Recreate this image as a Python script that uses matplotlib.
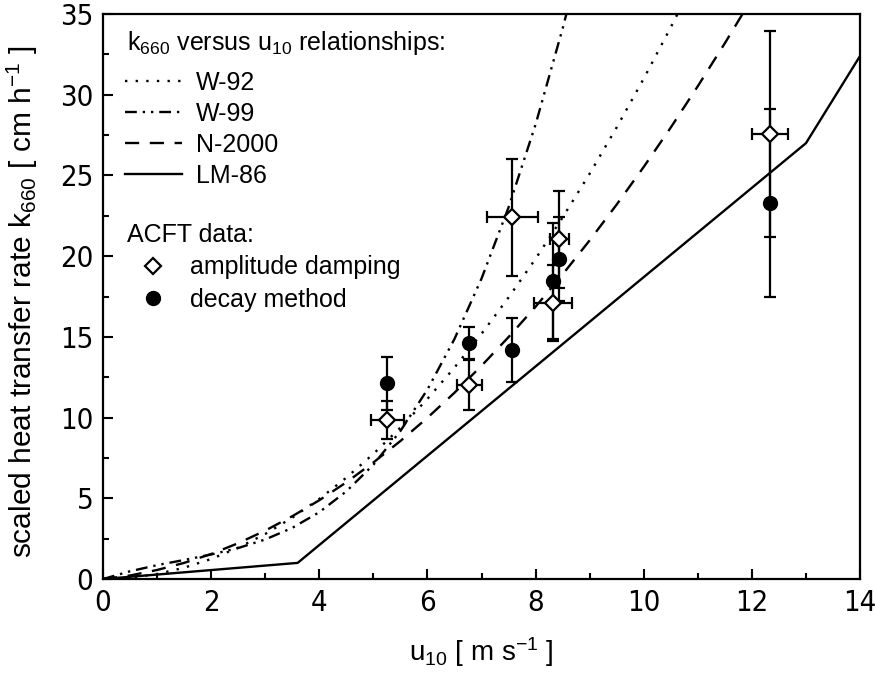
import numpy as np
import matplotlib
matplotlib.use("Agg")
import matplotlib.pyplot as plt
from matplotlib.lines import Line2D
from matplotlib import font_manager

# PICK A NARROW FONT FOR TICKS IF ONE IS THERE
fonts = font_manager.fontManager.ttflist
names = set(f.name for f in fonts)
if "Liberation Sans Narrow" in names:
    tick_font = dict(family="Liberation Sans Narrow", size=25)
elif any(f.name == "DejaVu Sans" and f.stretch == "condensed" for f in fonts):
    tick_font = dict(family="DejaVu Sans", stretch="condensed", size=21)
else:
    tick_font = dict(family="Liberation Sans", size=19)

plt.rcParams["font.family"] = ["Liberation Sans", "DejaVu Sans"]
plt.rcParams["mathtext.fontset"] = "custom"
plt.rcParams["mathtext.rm"] = "Liberation Sans"
plt.rcParams["mathtext.it"] = "Liberation Sans"

# k660 VERSUS u10 CURVES
u_w92 = [0, 0.5, 1, 1.5, 2, 2.5, 3, 3.5, 4, 4.5, 5, 5.5, 6, 6.5, 7, 7.5, 8, 8.5, 9, 9.5, 10, 10.5, 10.7]
k_w92 = [0, 0.08, 0.31, 0.70, 1.24, 1.94, 2.79, 3.80, 4.96, 6.28, 7.75, 9.38, 11.16, 13.10,
         15.19, 17.44, 19.84, 22.40, 25.11, 27.98, 31.0, 34.18, 35.5]

u_w99 = [0, 0.5, 1, 1.5, 2, 2.5, 3, 3.5, 4, 4.5, 5, 5.5, 6, 6.5, 7, 7.5, 8, 8.5, 8.7]
k_w99 = [0, 0.48, 0.86, 1.18, 1.52, 1.92, 2.45, 3.17, 4.14, 5.43, 7.08, 9.17, 11.74, 14.87,
         18.61, 23.02, 28.16, 34.10, 36.7]

u_n2000 = [0, 0.5, 1, 1.5, 2, 2.5, 3, 3.5, 4, 4.5, 5, 5.5, 6, 6.5, 7, 7.5, 8, 8.5, 9, 9.5,
           10, 10.5, 11, 11.5, 12]
k_n2000 = [0, 0.22, 0.56, 1.00, 1.55, 2.22, 3.00, 3.89, 4.88, 5.99, 7.22, 8.55, 9.99, 11.54,
           13.21, 14.99, 16.87, 18.87, 20.98, 23.20, 25.53, 27.97, 30.53, 33.19, 35.96]

u_lm86 = [0, 3.6, 13.0, 14.0]
k_lm86 = [0, 1.0, 27.0, 32.4]

# ACFT DATA
u_amp = [5.26, 6.77, 7.57, 8.32, 8.44, 12.34]
k_amp = [9.85, 12.02, 22.4, 17.08, 21.05, 27.57]
k_amp_err = [1.18, 1.55, 3.6, 2.35, 3.0, 6.4]
u_amp_err = [0.3, 0.23, 0.47, 0.35, 0.18, 0.33]

u_dec = [5.26, 6.77, 7.56, 8.32, 8.44, 12.34]
k_dec = [12.12, 14.62, 14.19, 18.45, 19.8, 23.3]
k_dec_err = [1.65, 1.0, 2.0, 3.6, 2.6, 5.8]

fig = plt.figure(figsize=(8.75, 6.74), dpi=100)
ax = fig.add_axes([0.1177, 0.1409, 0.8652, 0.8383])

lw = 1.7
ls_w92 = (0, (1, 3.5))
ls_w99 = (0, (5, 2.5, 1, 2.5, 1, 2.5))
ls_n2000 = (0, (6, 4.5))
ax.plot(u_w92, k_w92, color="black", lw=lw, linestyle=ls_w92)
ax.plot(u_w99, k_w99, color="black", lw=lw, linestyle=ls_w99)
ax.plot(u_n2000, k_n2000, color="black", lw=lw, linestyle=ls_n2000)
ax.plot(u_lm86, k_lm86, color="black", lw=lw, linestyle="-")

ax.errorbar(u_dec, k_dec, yerr=k_dec_err, fmt="o", color="black", ms=10,
            ecolor="black", elinewidth=1.6, capsize=4.5, capthick=1.6, zorder=3)
ax.errorbar(u_amp, k_amp, yerr=k_amp_err, xerr=u_amp_err, fmt="D", ms=8.5,
            mfc="white", mec="black", mew=1.6, ecolor="black", elinewidth=1.6,
            capsize=4.5, capthick=1.6, zorder=4)

ax.set_xlim(0, 14)
ax.set_ylim(0, 35)
ax.set_xticks(np.arange(0, 15, 2))
ax.set_xticks(np.arange(0, 15, 1), minor=True)
ax.set_yticks(np.arange(0, 36, 5))
ax.set_yticks(np.arange(0, 36, 2.5), minor=True)
ax.tick_params(which="both", direction="in", width=1.5, top=False, right=False)
ax.tick_params(which="major", length=7, pad=7)
ax.tick_params(which="minor", length=4)
ax.set_xticklabels([str(v) for v in range(0, 15, 2)], **tick_font)
ax.set_yticklabels([str(v) for v in range(0, 36, 5)], **tick_font)
for s in ax.spines.values():
    s.set_linewidth(1.6)

ax.set_xlabel(r"u$_{10}$ [ m s$^{-1}$ ]", fontsize=20)
ax.xaxis.set_label_coords(0.5, -0.1)
ax.set_ylabel(r"scaled heat transfer rate k$_{660}$ [ cm h$^{-1}$ ]", fontsize=21.5)
ax.yaxis.set_label_coords(-0.083, 0.49)

# LEGENDS
fs = 18
ax.text(0.0317, 0.9487, r"k$_{660}$ versus u$_{10}$ relationships:", transform=ax.transAxes,
        fontsize=fs, ha="left", va="center")
h1 = [Line2D([], [], color="black", lw=lw, linestyle=ls_w92),
      Line2D([], [], color="black", lw=lw, linestyle=ls_w99),
      Line2D([], [], color="black", lw=lw, linestyle=ls_n2000),
      Line2D([], [], color="black", lw=lw)]
leg1 = ax.legend(h1, ["W-92", "W-99", "N-2000", "LM-86"], loc="upper left",
                 bbox_to_anchor=(0.029, 0.9000), frameon=False, fontsize=fs,
                 handlelength=2.3, handletextpad=0.55, labelspacing=0.28,
                 borderpad=0, borderaxespad=0)
ax.add_artist(leg1)

ax.text(0.0317, 0.6090, "ACFT data:", transform=ax.transAxes,
        fontsize=fs, ha="left", va="center")
h2 = [Line2D([], [], marker="D", ms=8.5, mfc="white", mec="black", mew=1.6, ls="none"),
      Line2D([], [], marker="o", ms=10, color="black", ls="none")]
leg2 = ax.legend(h2, ["amplitude damping", "decay method"], loc="upper left",
                 bbox_to_anchor=(0.029, 0.5730), frameon=False, fontsize=fs,
                 handlelength=2.24, handletextpad=0.36, labelspacing=0.33,
                 borderpad=0, borderaxespad=0)

fig.savefig("out.png", dpi=100)
